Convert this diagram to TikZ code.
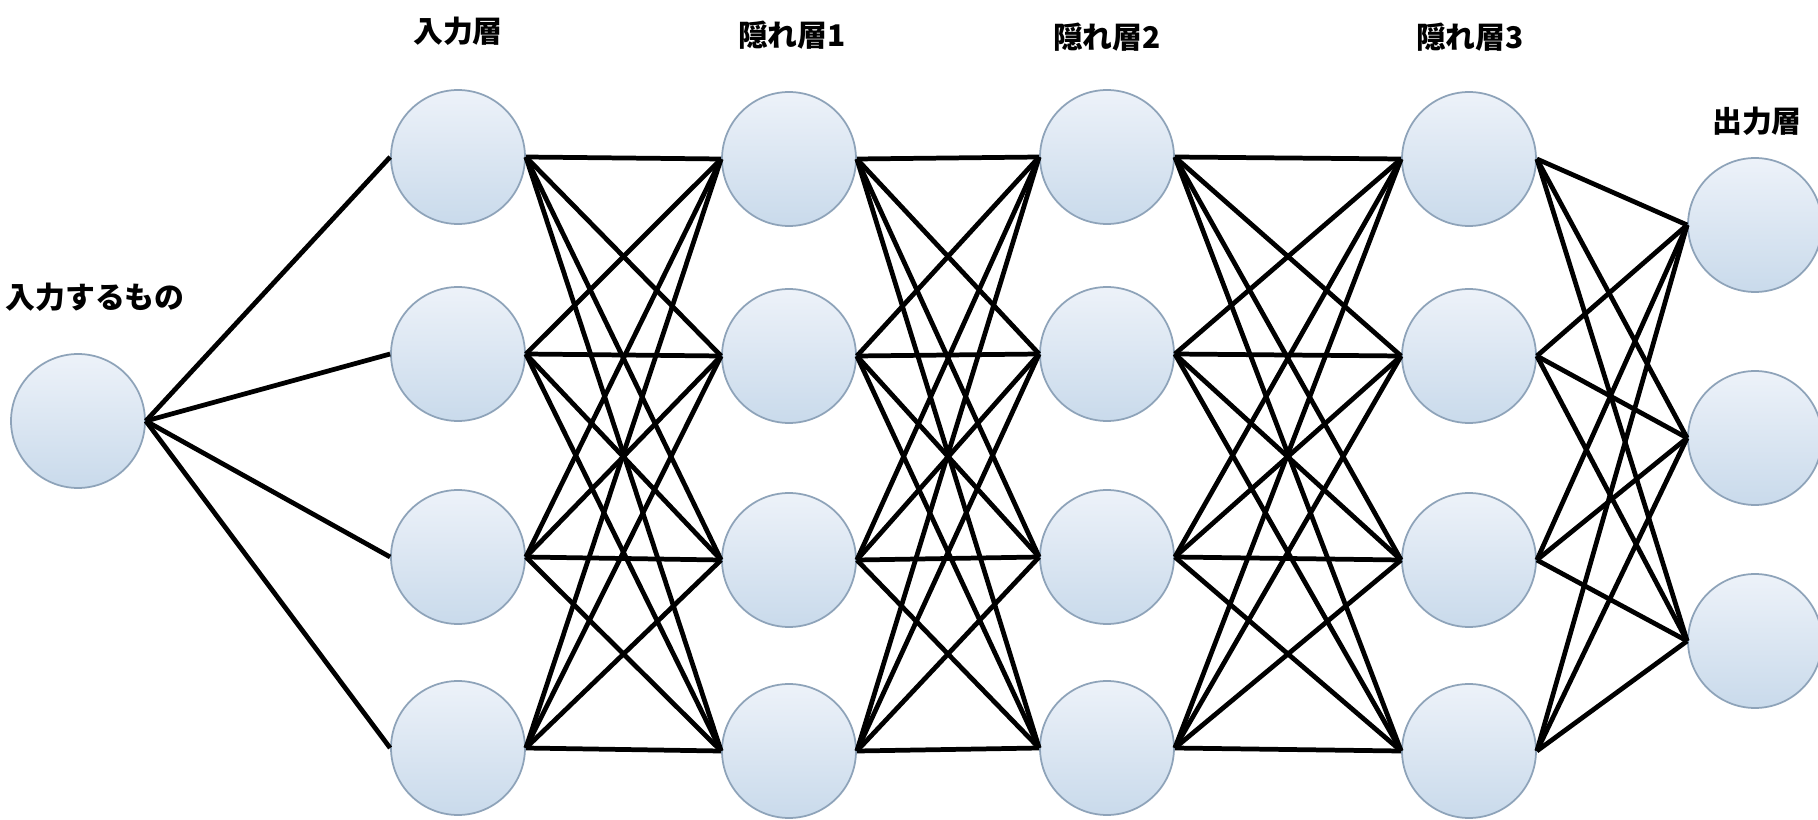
\documentclass[tikz,border=0pt]{standalone}
\usepackage{fontspec}
\newfontfamily\jp{Noto Sans CJK JP}
\definecolor{circtop}{HTML}{EDF2F9}
\definecolor{circbot}{HTML}{C9DAEB}
\definecolor{circline}{HTML}{8EA3B9}
\tikzset{
  neuron/.style={circle, minimum size=2.68cm, inner sep=0pt, draw=circline, line width=1pt, top color=circtop, bottom color=circbot},
  conn/.style={line width=2.7pt, black},
  lbl/.style={font=\jp\bfseries\fontsize{17}{19}\selectfont, inner sep=0pt}
}
\begin{document}
\begin{tikzpicture}[x=0.02cm,y=-0.02cm]
\useasboundingbox (0,0) rectangle (1818,820);
\clip (0,0) rectangle (1818,820);
% labels
\node[lbl] (lin) at (95,297) {入力するもの};
\node[lbl] (l1) at (458,31) {入力層};
\node[lbl] (l2) at (792,35) {隠れ層1};
\node[lbl] (l3) at (1107,37) {隠れ層2};
\node[lbl] (l4) at (1470,37) {隠れ層3};
\node[lbl] (l5) at (1757,121) {出力層};
% nodes
\node[neuron] (in) at (78,421) {};
\foreach \i/\y in {1/157,2/354,3/557,4/748} {
  \node[neuron] (a\i) at (458,\y) {};
  \node[neuron] (c\i) at (1107,\y) {};
}
\foreach \i/\y in {1/159,2/356,3/560,4/751} {
  \node[neuron] (b\i) at (789,\y) {};
  \node[neuron] (d\i) at (1469,\y) {};
}
\foreach \i/\y in {1/225,2/438,3/641} {
  \node[neuron] (o\i) at (1755,\y) {};
}
% connections
\foreach \j in {1,...,4} \draw[conn] (in.east) -- (a\j.west);
\foreach \i in {1,...,4} {
  \foreach \j in {1,...,4} {
    \draw[conn] (a\i.east) -- (b\j.west);
    \draw[conn] (b\i.east) -- (c\j.west);
    \draw[conn] (c\i.east) -- (d\j.west);
  }
  \foreach \j in {1,2,3} \draw[conn] (d\i.east) -- (o\j.west);
}
\end{tikzpicture}
\end{document}
